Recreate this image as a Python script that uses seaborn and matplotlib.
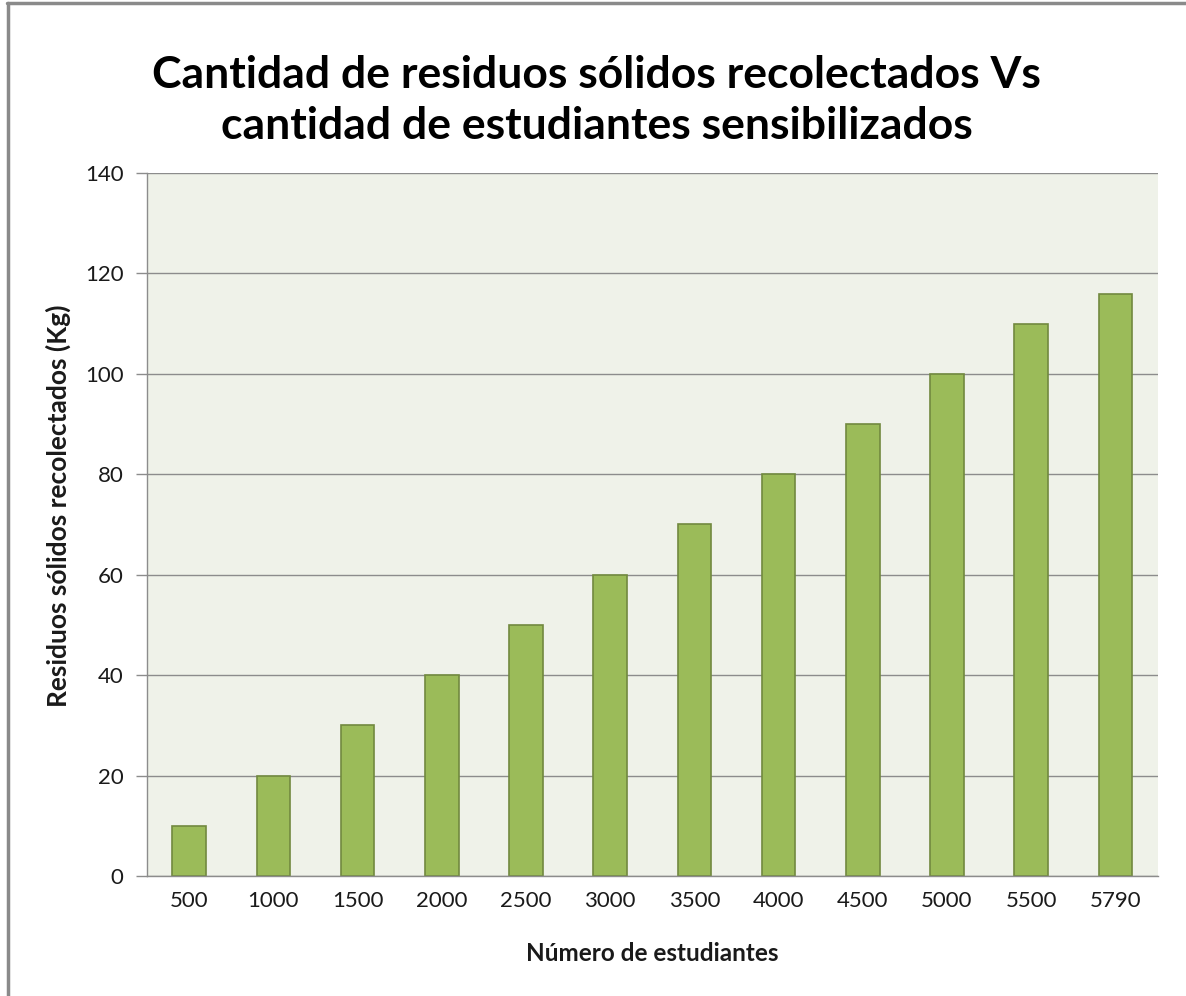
import matplotlib
matplotlib.use("Agg")
import matplotlib.pyplot as plt
import seaborn as sns
import pandas as pd
from matplotlib.lines import Line2D

estudiantes = ["500", "1000", "1500", "2000", "2500", "3000", "3500",
               "4000", "4500", "5000", "5500", "5790"]
residuos_kg = [10, 20, 30, 40, 50, 60, 70, 80, 90, 100, 110, 116]
y_ticks = [0, 20, 40, 60, 80, 100, 120, 140]

df = pd.DataFrame({"estudiantes": estudiantes, "residuos": residuos_kg})

sns.set_theme(style="white")
plt.rcParams["font.family"] = ["Lato", "DejaVu Sans"]

fig = plt.figure(figsize=(11.86, 9.96), dpi=100)
ax = fig.add_axes([0.124, 0.1205, 0.852, 0.7058])

grid_col = "#8c8c8c"
ax.set_facecolor("#eff2e9")
ax.set_axisbelow(True)
ax.yaxis.grid(True, color=grid_col, linewidth=1.0)

sns.barplot(data=df, x="estudiantes", y="residuos", color="#9bbb59",
            saturation=1, width=0.4, edgecolor="#71893f", linewidth=1.2,
            ax=ax)

ax.set_ylim(0, 140)
ax.set_yticks(y_ticks)
ax.set_xlim(-0.5, len(estudiantes) - 0.5)

for side in ["top", "right"]:
    ax.spines[side].set_visible(False)
for side in ["left", "bottom"]:
    ax.spines[side].set_color(grid_col)
    ax.spines[side].set_linewidth(1.0)

ax.tick_params(axis="y", which="major", direction="out", length=8,
               width=1.0, color=grid_col, labelsize=16, pad=9,
               left=True, labelcolor="#1a1a1a")
ax.tick_params(axis="x", length=0, labelsize=16, pad=11,
               labelcolor="#1a1a1a")

ax.set_xlabel("Número de estudiantes", fontsize=17.5, fontweight="bold",
              color="#1a1a1a")
ax.set_ylabel("Residuos sólidos recolectados (Kg)", fontsize=19,
              fontweight="bold", color="#1a1a1a")
ax.xaxis.set_label_coords(0.5, -0.094)
ax.yaxis.set_label_coords(-0.0752, 0.526)

fig.text(0.503, 0.899,
         "Cantidad de residuos sólidos recolectados Vs\n"
         "cantidad de estudiantes sensibilizados",
         ha="center", va="center", fontsize=32, fontweight="bold",
         linespacing=1.33, color="black")

# chart frame (top and left edges)
fig.add_artist(Line2D([0.0068, 0.0068], [0.0, 0.997], transform=fig.transFigure,
                      color="#8a8a8a", linewidth=2.5))
fig.add_artist(Line2D([0.0058, 1.0], [0.9965, 0.9965], transform=fig.transFigure,
                      color="#8a8a8a", linewidth=2.5))

fig.savefig("out.png", dpi=100)
